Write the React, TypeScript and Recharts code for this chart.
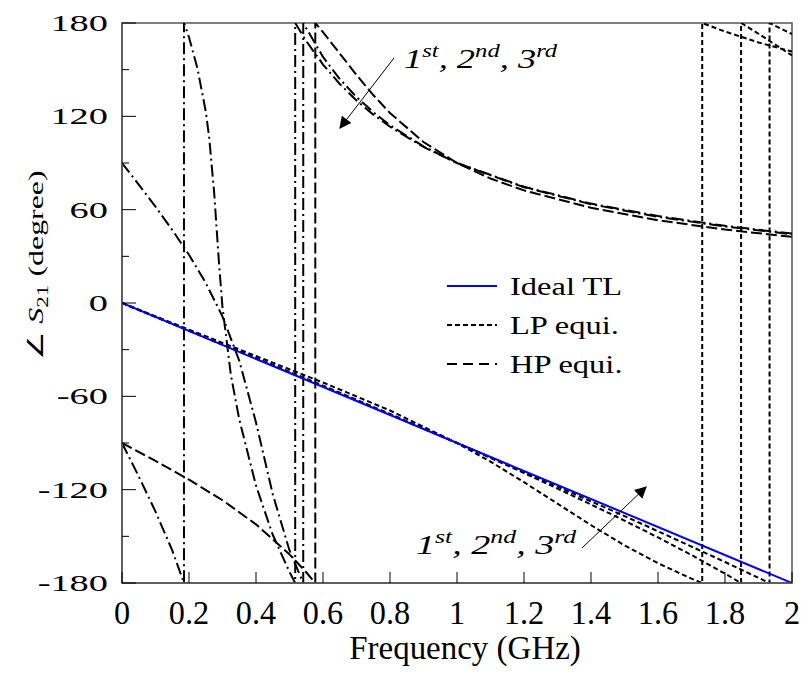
import React from 'react';
import { LineChart, Line, XAxis, YAxis, ReferenceArea } from 'recharts';

// [frequency (GHz), phase of S21 (deg)]; a repeated frequency is a ±180° wrap
const IDEAL_TL = [[0, 0], [2, -180]];

const LP_1ST = [
  [0, 0], [0.2, -17.1], [0.4, -34.1], [0.6, -51.1], [0.8, -69.1], [1, -90],
  [1.1, -102.0], [1.2, -115.2], [1.3, -129.0], [1.4, -142.8], [1.5, -155.8],
  [1.6, -167.3], [1.7, -177.2], [1.732, -180], [1.732, 180], [1.8, 174.5],
  [1.9, 167.5], [2, 161.6],
];
const LP_2ND = [
  [0, 0], [0.2, -17.8], [0.4, -35.3], [0.6, -53.1], [0.8, -71.3], [1, -90],
  [1.1, -99.6], [1.2, -109.3], [1.3, -119.3], [1.4, -129.5], [1.5, -139.9],
  [1.6, -150.7], [1.7, -162.0], [1.8, -174.0], [1.848, -180], [1.848, 180],
  [1.9, 173.1], [2, 159.1],
];
const LP_3RD = [
  [0, 0], [0.2, -17.9], [0.4, -35.7], [0.6, -53.6], [0.8, -71.7], [1, -90],
  [1.1, -99.2], [1.2, -108.6], [1.3, -118.0], [1.4, -127.5], [1.5, -137.0],
  [1.6, -146.7], [1.7, -156.6], [1.8, -166.5], [1.9, -176.7], [1.933, -180],
  [1.933, 180], [2, 172.9],
];

const HP_1ST = [
  [0, -90], [0.1, -101.5], [0.2, -113.6], [0.3, -126.8], [0.4, -142.3],
  [0.5, -161.6], [0.55, -173.1], [0.577, -180], [0.577, 180], [0.6, 174.1],
  [0.65, 160.4], [0.7, 146.6], [0.75, 133.7], [0.8, 122.1], [0.9, 103.5],
  [1, 90], [1.1, 80.0], [1.2, 72.4], [1.4, 61.2], [1.6, 53.2], [1.8, 47.2],
  [2, 42.5],
];
const HP_2ND = [
  [0, 90], [0.05, 76.1], [0.1, 61.9], [0.15, 47.0], [0.2, 31.0], [0.25, 12.9],
  [0.3, -8.7], [0.35, -37.1], [0.4, -76.8], [0.45, -122.9], [0.5, -159.1],
  [0.541, -180], [0.541, 180], [0.6, 158.2], [0.65, 144.0], [0.7, 132.4],
  [0.75, 122.7], [0.8, 114.3], [0.9, 100.7], [1, 90], [1.2, 74.4], [1.4, 63.5],
  [1.6, 55.4], [1.8, 49.2], [2, 44.2],
];
const HP_3RD = [
  [0, -90], [0.05, -111.5], [0.1, -134.1], [0.15, -159.0], [0.185, -180],
  [0.185, 180], [0.2, 170.8], [0.225, 151.0], [0.25, 123.2], [0.26, 106.9],
  [0.275, 71.3], [0.29, 24.3], [0.3, -2.8], [0.325, -46.3], [0.35, -74.8],
  [0.4, -117.4], [0.45, -149.0], [0.5, -172.9], [0.517, -180], [0.517, 180],
  [0.55, 168.4], [0.6, 153.3], [0.65, 140.8], [0.7, 130.2], [0.75, 121.1],
  [0.8, 113.3], [0.9, 100.3], [1, 90], [1.2, 74.7], [1.4, 63.9], [1.6, 55.9],
  [1.8, 49.6], [2, 44.6],
];

const X_TICKS = [0, 0.2, 0.4, 0.6, 0.8, 1, 1.2, 1.4, 1.6, 1.8, 2];
const Y_TICKS = [-180, -150, -120, -90, -60, -30, 0, 30, 60, 90, 120, 150, 180];

const LEGEND = [
  { name: 'Ideal TL', color: '#0000ff', dash: undefined },
  { name: 'LP equi.', color: '#000', dash: '5 3' },
  { name: 'HP equi.', color: '#000', dash: '10 6' },
];

const serif = { fontFamily: 'Liberation Serif' };

const pts = (pairs: number[][]) => pairs.map(([f, deg]) => ({ f, deg }));

// x labels are tall and narrow, y labels short and wide
const XTick = ({ x, y, payload }: any) => (
  <g>
    <line x1={x} x2={x} y1={y} y2={y - 11} stroke="#000" strokeWidth={1} />
    <text
      transform={`translate(${x},${y + 41}) scale(0.95,1)`}
      textAnchor="middle"
      style={serif}
      fontSize={34}
      fill="#000"
    >
      {payload.value}
    </text>
  </g>
);

const YTick = ({ x, y, payload }: any) => {
  const major = payload.value % 60 === 0;
  return (
    <g>
      <line x1={x} x2={x + (major ? 14 : 7)} y1={y} y2={y} stroke="#000" strokeWidth={1} />
      {major && (
        <text
          transform={`translate(${x - 14},${y + 8}) scale(1.6,1)`}
          textAnchor="end"
          style={serif}
          fontSize={24}
          fill="#000"
        >
          {payload.value}
        </text>
      )}
    </g>
  );
};

const Orders = ({ x, y, sx }: { x: number; y: number; sx: number }) => (
  <text
    transform={`translate(${x},${y}) scale(${sx},1)`}
    style={serif}
    fontStyle="italic"
    fontSize={28}
    fill="#000"
  >
    1<tspan dy={-11} fontSize={19}>st</tspan>
    <tspan dy={11}>, 2</tspan>
    <tspan dy={-11} fontSize={19}>nd</tspan>
    <tspan dy={11}>, 3</tspan>
    <tspan dy={-11} fontSize={19}>rd</tspan>
  </text>
);

export default function App() {
  const lp = { stroke: '#000', strokeWidth: 2, strokeDasharray: '5 3', dot: false, activeDot: false, isAnimationActive: false };
  const hpDashDot = { stroke: '#000', strokeWidth: 2, strokeDasharray: '12 4 2 4', dot: false, activeDot: false, isAnimationActive: false };

  return (
    <div style={{ position: 'absolute', left: 0, top: 0, width: 801, height: 682, background: '#fff' }}>
      <LineChart width={801} height={682} margin={{ top: 23, right: 9, bottom: 59, left: 62 }}>
        <XAxis
          type="number"
          dataKey="f"
          domain={[0, 2]}
          ticks={X_TICKS}
          height={40}
          tickSize={0}
          tickMargin={0}
          tickLine={false}
          axisLine={{ stroke: '#555', strokeWidth: 1.5 }}
          tick={<XTick />}
          allowDataOverflow
        />
        <YAxis
          type="number"
          domain={[-180, 180]}
          ticks={Y_TICKS}
          width={60}
          tickSize={0}
          tickMargin={0}
          tickLine={false}
          axisLine={{ stroke: '#555', strokeWidth: 1.5 }}
          tick={<YTick />}
          interval={0}
          allowDataOverflow
        />
        <ReferenceArea x1={0} x2={2} y1={-180} y2={180} fill="none" stroke="#555" strokeWidth={1.5} />
        <Line data={pts(HP_1ST)} dataKey="deg" stroke="#000" strokeWidth={2} strokeDasharray="11 4" dot={false} activeDot={false} isAnimationActive={false} />
        <Line data={pts(HP_2ND)} dataKey="deg" {...hpDashDot} />
        <Line data={pts(HP_3RD)} dataKey="deg" {...hpDashDot} />
        <Line data={pts(LP_1ST)} dataKey="deg" {...lp} />
        <Line data={pts(LP_2ND)} dataKey="deg" {...lp} />
        <Line data={pts(LP_3RD)} dataKey="deg" {...lp} />
        <Line data={pts(IDEAL_TL)} dataKey="deg" stroke="#0000ff" strokeWidth={2} dot={false} activeDot={false} isAnimationActive={false} />
      </LineChart>

      <svg width={801} height={682} style={{ position: 'absolute', left: 0, top: 0, pointerEvents: 'none' }}>
        <defs>
          <marker id="head" viewBox="0 0 10 10" refX="9" refY="5" markerWidth="16" markerHeight="12" markerUnits="userSpaceOnUse" orient="auto">
            <path d="M0,0 L10,5 L0,10 Z" fill="#000" />
          </marker>
        </defs>

        {/* legend */}
        {LEGEND.map((item, i) => (
          <g key={item.name}>
            <line x1={447} x2={497} y1={286 + i * 39} y2={286 + i * 39} stroke={item.color} strokeWidth={2} strokeDasharray={item.dash} />
            <text transform={`translate(510,${295 + i * 39}) scale(1.3,1)`} style={serif} fontSize={25} fill="#000">
              {item.name}
            </text>
          </g>
        ))}

        {/* order annotations */}
        <Orders x={404} y={68} sx={1.3} />
        <line x1={394} y1={58} x2={340} y2={128} stroke="#000" strokeWidth={1} markerEnd="url(#head)" />
        <Orders x={416} y={554} sx={1.36} />
        <line x1={582} y1={548} x2={646} y2={487} stroke="#000" strokeWidth={1} markerEnd="url(#head)" />

        {/* axis titles */}
        <text transform="translate(465,659) scale(0.97,1)" textAnchor="middle" style={serif} fontSize={34} fill="#000">
          Frequency (GHz)
        </text>
        <text transform="translate(43,265) rotate(-90) scale(1.45,1)" textAnchor="middle" style={serif} fontSize={22} fill="#000">
          {'\u2220 '}
          <tspan fontStyle="italic">S</tspan>
          <tspan fontSize={16} dy={5}>21</tspan>
          <tspan dy={-5}>{'  (degree)'}</tspan>
        </text>
      </svg>
    </div>
  );
}
